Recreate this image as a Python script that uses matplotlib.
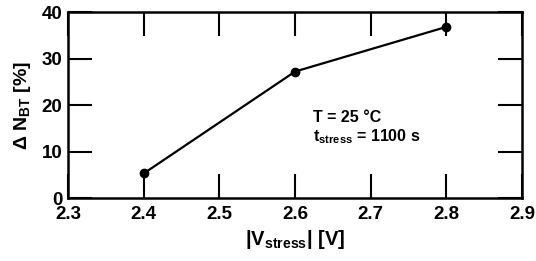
import matplotlib
matplotlib.use("Agg")
import matplotlib.pyplot as plt

plt.rcParams['font.family'] = ['Liberation Sans', 'DejaVu Sans']
plt.rcParams['font.weight'] = 'bold'
plt.rcParams['mathtext.fontset'] = 'custom'
plt.rcParams['mathtext.rm'] = 'Liberation Sans:bold'
plt.rcParams['mathtext.bf'] = 'Liberation Sans:bold'
plt.rcParams['mathtext.default'] = 'bf'

v_stress = [2.4, 2.6, 2.8]
delta_nbt = [5.3, 27.2, 36.8]
xticks = [2.3, 2.4, 2.5, 2.6, 2.7, 2.8, 2.9]
yticks = [0, 10, 20, 30, 40]

fig = plt.figure(figsize=(5.36, 2.61), dpi=100)
ax = fig.add_axes([0.127, 0.241, 0.847, 0.713])
ax.plot(v_stress, delta_nbt, color='black', lw=1.6, marker='o', ms=6)
ax.set_xlim(2.3, 2.9)
ax.set_ylim(0, 40)
ax.set_xticks(xticks)
ax.set_yticks(yticks)
ax.set_xticklabels([f"{t:.1f}" for t in xticks])
ax.set_yticklabels([str(t) for t in yticks])
ax.tick_params(direction='in', length=17, width=1.5, top=True, right=True,
               labelsize=13.5)
ax.tick_params(axis='x', pad=6)
ax.tick_params(axis='y', pad=4)
for s in ax.spines.values():
    s.set_linewidth(1.8)
ax.set_xlabel(r'|V$_{\mathbf{stress}}$| [V]', fontsize=14.5, fontweight='bold', labelpad=3)
ax.set_ylabel(r'$\Delta$ N$_{\mathbf{BT}}$ [%]', fontsize=14, fontweight='bold', labelpad=6)
ax.text(2.624, 16.3, 'T = 25 °C', fontsize=11.5, fontweight='bold', va='baseline')
ax.text(2.624, 12.2, r't$_{\mathbf{stress}}$ = 1100 s', fontsize=11.5, fontweight='bold', va='baseline')
fig.savefig('out.png', dpi=100)
